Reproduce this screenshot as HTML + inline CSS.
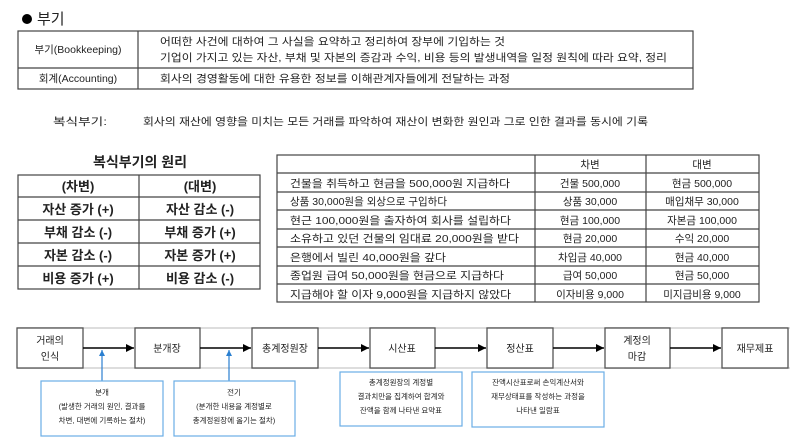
<!DOCTYPE html>
<html><head><meta charset="utf-8"><style>
html,body{margin:0;padding:0;background:#fff;}
svg{display:block;}
text{font-family:"Liberation Sans","Noto Sans CJK KR",sans-serif;fill:#222;}
</style></head><body>
<svg width="800" height="448" viewBox="0 0 800 448" xmlns="http://www.w3.org/2000/svg">
<defs>
<marker id="ah" markerWidth="6" markerHeight="6" refX="5" refY="3" orient="auto"><path d="M0,0.5 L5,3 L0,5.5 z" fill="#000"/></marker>
<marker id="bh" markerWidth="6" markerHeight="6" refX="5" refY="3" orient="auto"><path d="M0,0.5 L5,3 L0,5.5 z" fill="#2a7fd0"/></marker>
</defs>
<!-- header -->
<circle cx="27" cy="19" r="5" fill="#000"/>
<text x="37" y="24" font-size="15">부기</text>
<!-- top table -->
<g stroke="#444" stroke-width="1.2" fill="none">
<rect x="18" y="31" width="675" height="58"/>
<line x1="18" y1="68" x2="693" y2="68"/>
<line x1="138" y1="31" x2="138" y2="89"/>
</g>
<g font-size="10.5">
<text x="78" y="53" text-anchor="middle">부기(Bookkeeping)</text>
<text x="78" y="82" text-anchor="middle">회계(Accounting)</text>
<text x="160" y="45" textLength="345" lengthAdjust="spacingAndGlyphs">어떠한 사건에 대하여 그 사실을 요약하고 정리하여 장부에 기입하는 것</text>
<text x="160" y="61" textLength="507" lengthAdjust="spacingAndGlyphs">기업이 가지고 있는 자산, 부채 및 자본의 증감과 수익, 비용 등의 발생내역을 일정 원칙에 따라 요약, 정리</text>
<text x="160" y="82" textLength="350" lengthAdjust="spacingAndGlyphs">회사의 경영활동에 대한 유용한 정보를 이해관계자들에게 전달하는 과정</text>
<text x="53" y="125" textLength="54" lengthAdjust="spacingAndGlyphs">복식부기:</text>
<text x="143" y="125" textLength="505" lengthAdjust="spacingAndGlyphs">회사의 재산에 영향을 미치는 모든 거래를 파악하여 재산이 변화한 원인과 그로 인한 결과를 동시에 기록</text>
</g>
<!-- principle -->
<text x="140" y="167" font-size="14" font-weight="bold" text-anchor="middle">복식부기의 원리</text>
<g stroke="#444" stroke-width="1.2" fill="none">
<rect x="18" y="175" width="242" height="114"/>
<line x1="18" y1="197" x2="260" y2="197"/>
<line x1="18" y1="220" x2="260" y2="220"/>
<line x1="18" y1="243" x2="260" y2="243"/>
<line x1="18" y1="266" x2="260" y2="266"/>
<line x1="139" y1="175" x2="139" y2="289"/>
</g>
<g font-size="13" font-weight="bold" text-anchor="middle">
<text x="78" y="191">(차변)</text><text x="200" y="191">(대변)</text>
<text x="78" y="214">자산 증가 (+)</text><text x="200" y="214">자산 감소 (-)</text>
<text x="78" y="237">부채 감소 (-)</text><text x="200" y="237">부채 증가 (+)</text>
<text x="78" y="260">자본 감소 (-)</text><text x="200" y="260">자본 증가 (+)</text>
<text x="78" y="283">비용 증가 (+)</text><text x="200" y="283">비용 감소 (-)</text>
</g>
<!-- right table -->
<g stroke="#444" stroke-width="1.2" fill="none">
<rect x="277" y="155" width="482" height="147"/>
<line x1="277" y1="173" x2="759" y2="173"/>
<line x1="277" y1="192" x2="759" y2="192"/>
<line x1="277" y1="210" x2="759" y2="210"/>
<line x1="277" y1="229" x2="759" y2="229"/>
<line x1="277" y1="247" x2="759" y2="247"/>
<line x1="277" y1="266" x2="759" y2="266"/>
<line x1="277" y1="284" x2="759" y2="284"/>
<line x1="535" y1="155" x2="535" y2="302"/>
<line x1="646" y1="155" x2="646" y2="302"/>
</g>
<g font-size="10.5">
<text x="590" y="168" text-anchor="middle">차변</text><text x="702" y="168" text-anchor="middle">대변</text>
<text x="290" y="187" textLength="220" lengthAdjust="spacingAndGlyphs">건물을 취득하고 현금을 500,000원 지급하다</text>
<text x="290" y="205" textLength="157" lengthAdjust="spacingAndGlyphs">상품 30,000원을 외상으로 구입하다</text>
<text x="290" y="224" textLength="221" lengthAdjust="spacingAndGlyphs">현근 100,000원을 출자하여 회사를 설립하다</text>
<text x="290" y="242" textLength="229" lengthAdjust="spacingAndGlyphs">소유하고 있던 건물의 임대료 20,000원을 받다</text>
<text x="290" y="261" textLength="156" lengthAdjust="spacingAndGlyphs">은행에서 빌린 40,000원을 갚다</text>
<text x="290" y="279" textLength="214" lengthAdjust="spacingAndGlyphs">종업원 급여 50,000원을 현금으로 지급하다</text>
<text x="290" y="298" textLength="221" lengthAdjust="spacingAndGlyphs">지급해야 할 이자 9,000원을 지급하지 않았다</text>
<g text-anchor="middle">
<text x="590" y="187">건물 500,000</text><text x="702" y="187">현금 500,000</text>
<text x="590" y="205">상품 30,000</text><text x="702" y="205">매입채무 30,000</text>
<text x="590" y="224">현금 100,000</text><text x="702" y="224">자본금 100,000</text>
<text x="590" y="242">현금 20,000</text><text x="702" y="242">수익 20,000</text>
<text x="590" y="261">차입금 40,000</text><text x="702" y="261">현금 40,000</text>
<text x="590" y="279">급여 50,000</text><text x="702" y="279">현금 50,000</text>
<text x="590" y="298">이자비용 9,000</text><text x="702" y="298">미지급비용 9,000</text>
</g>
</g>
<!-- flow -->
<line x1="17" y1="328" x2="790" y2="328" stroke="#ddd" stroke-width="2"/>
<line x1="17" y1="368" x2="790" y2="368" stroke="#ddd" stroke-width="2"/>
<g stroke="#555" stroke-width="1.3" fill="#fff">
<rect x="17" y="328" width="66" height="40"/>
<rect x="135" y="328" width="65" height="40"/>
<rect x="252" y="328" width="66" height="40"/>
<rect x="370" y="328" width="65" height="40"/>
<rect x="487" y="328" width="66" height="40"/>
<rect x="605" y="328" width="65" height="40"/>
<rect x="722" y="328" width="66" height="40"/>
</g>
<g stroke="#000" stroke-width="1.6" marker-end="url(#ah)">
<line x1="83" y1="348" x2="134" y2="348"/>
<line x1="200" y1="348" x2="251" y2="348"/>
<line x1="318" y1="348" x2="369" y2="348"/>
<line x1="435" y1="348" x2="486" y2="348"/>
<line x1="553" y1="348" x2="604" y2="348"/>
<line x1="670" y1="348" x2="721" y2="348"/>
</g>
<g font-size="10" text-anchor="middle">
<text x="50" y="344">거래의</text><text x="50" y="360">인식</text>
<text x="167" y="352">분개장</text>
<text x="285" y="352">총계정원장</text>
<text x="402" y="352">시산표</text>
<text x="520" y="352">정산표</text>
<text x="637" y="344">계정의</text><text x="637" y="360">마감</text>
<text x="755" y="352">재무제표</text>
</g>
<g stroke="#2a7fd0" stroke-width="1.2" marker-end="url(#bh)">
<line x1="102" y1="381" x2="102" y2="350"/>
<line x1="229" y1="381" x2="229" y2="350"/>
</g>
<g stroke="#6aaee6" stroke-width="1.2" fill="#fff">
<rect x="41" y="381" width="122" height="55"/>
<rect x="174" y="381" width="121" height="55"/>
<rect x="340" y="372" width="122" height="54"/>
<rect x="472" y="372" width="132" height="55"/>
</g>
<g font-size="7.5" text-anchor="middle">
<text x="102" y="395">분개</text>
<text x="102" y="409">(발생한 거래의 원인, 결과를</text>
<text x="102" y="423">차변, 대변에 기록하는 절차)</text>
<text x="234" y="395">전기</text>
<text x="234" y="409">(분개한 내용을 계정별로</text>
<text x="234" y="423">총계정원장에 옮기는 절차)</text>
<text x="401" y="385">총계정원장의 계정별</text>
<text x="401" y="399">결과치만을 집계하여 합계와</text>
<text x="401" y="413">잔액을 함께 나타낸 요약표</text>
<text x="538" y="385">잔액시산표로써 손익계산서와</text>
<text x="538" y="399">재무상태표를 작성하는 과정을</text>
<text x="538" y="413">나타낸 일람표</text>
</g>
</svg>
</body></html>
